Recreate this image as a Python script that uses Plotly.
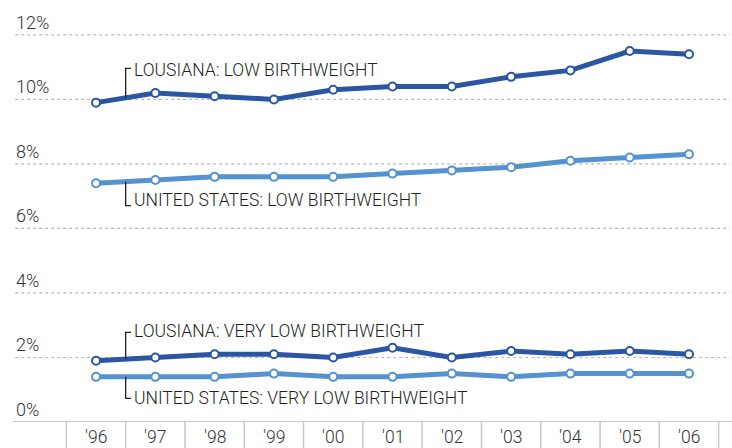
import plotly.graph_objects as go

# ---- data ----
years = ["'96", "'97", "'98", "'99", "'00", "'01", "'02", "'03", "'04", "'05", "'06"]
la_low = [9.9, 10.2, 10.1, 10.0, 10.3, 10.4, 10.4, 10.7, 10.9, 11.5, 11.4]
us_low = [7.4, 7.5, 7.6, 7.6, 7.6, 7.7, 7.8, 7.9, 8.1, 8.2, 8.3]
la_vlow = [1.9, 2.0, 2.1, 2.1, 2.0, 2.3, 2.0, 2.2, 2.1, 2.2, 2.1]
us_vlow = [1.4, 1.4, 1.4, 1.5, 1.4, 1.4, 1.5, 1.4, 1.5, 1.5, 1.5]
y_ticks = [0, 2, 4, 6, 8, 10, 12]
y_tick_labels = ["0%", "2%", "4%", "6%", "8%", "10%", "12%"]

series_names = ["LOUSIANA: LOW BIRTHWEIGHT", "UNITED STATES: LOW BIRTHWEIGHT",
                "LOUSIANA: VERY LOW BIRTHWEIGHT", "UNITED STATES: VERY LOW BIRTHWEIGHT"]

# ---- style ----
DARK = "#2b56a3"
LIGHT = "#5592d0"
TEXT = "#231f20"
FONT = "Roboto, Liberation Sans Narrow, sans-serif"

xs = list(range(len(years)))
fig = go.Figure()

series = [(la_low, DARK), (us_low, LIGHT), (la_vlow, DARK), (us_vlow, LIGHT)]
for name, (vals, col) in zip(series_names, series):
    fig.add_trace(go.Scatter(
        x=xs, y=vals, mode="lines+markers", name=name,
        line=dict(color=col, width=5),
        marker=dict(size=8, color="white", line=dict(color=col, width=2)),
        hoverinfo="x+y", showlegend=False,
    ))

shapes = []
# dotted gridlines
for t in y_ticks[1:]:
    shapes.append(dict(type="line", xref="paper", yref="y", x0=0.003, x1=0.997, y0=t, y1=t,
                       line=dict(color="#b8b8b8", width=1.2, dash="3px,3px"), layer="below"))
# base axis line
shapes.append(dict(type="line", xref="paper", yref="y", x0=0, x1=1, y0=0, y1=0,
                   line=dict(color="#c8c8c8", width=2), layer="below"))
# category separators below axis
for k in range(len(years) + 1):
    shapes.append(dict(type="line", xref="x", yref="paper", x0=k - 0.5, x1=k - 0.5, y0=0, y1=-0.07,
                       line=dict(color="#c8c8c8", width=1.5)))

# label brackets: (bracket-end y, text centre y)
brackets = [(10.96, 10.91), (6.71, 6.89), (2.78, 2.81), (0.73, 0.73)]
bx, tx = 0.5, 0.61
annotations = []
for name, vals, (yb, yt) in zip(series_names, [la_low, us_low, la_vlow, us_vlow], brackets):
    ymid = (vals[0] + vals[1]) / 2
    shapes.append(dict(type="path", xref="x", yref="y",
                       path=f"M {bx},{ymid} L {bx},{yb} L {tx - 0.02},{yb}",
                       line=dict(color=TEXT, width=1.3)))
    annotations.append(dict(x=tx, y=yt, xref="x", yref="y", text=name, showarrow=False,
                            xanchor="left", yanchor="middle",
                            font=dict(family=FONT, size=17.5, color=TEXT, weight=300)))

# y tick labels
for t, lab in zip(y_ticks, y_tick_labels):
    annotations.append(dict(x=0.0015, y=t, xref="paper", yref="y", text=lab, showarrow=False,
                            xanchor="left", yanchor="bottom", yshift=0,
                            font=dict(family=FONT, size=18, color="#333333", weight=300)))
# x tick labels
for x, lab in zip(xs, years):
    annotations.append(dict(x=x, y=0, xref="x", yref="paper", text=lab, showarrow=False,
                            xanchor="center", yanchor="top", yshift=-3,
                            font=dict(family=FONT, size=17.5, color="#333333", weight=300)))

fig.update_layout(
    width=732, height=448,
    margin=dict(l=13, r=0, t=2, b=26),
    paper_bgcolor="white", plot_bgcolor="white",
    xaxis=dict(range=[-1.40, 10.725], showgrid=False, zeroline=False, showticklabels=False,
               showline=False, fixedrange=True),
    yaxis=dict(range=[0, 13.02], showgrid=False, zeroline=False, showticklabels=False,
               showline=False, fixedrange=True),
    shapes=shapes, annotations=annotations,
)

fig.write_html("out.html", config={"displayModeBar": False},
               post_script="document.body.style.margin='0';document.body.style.overflow='hidden';")
